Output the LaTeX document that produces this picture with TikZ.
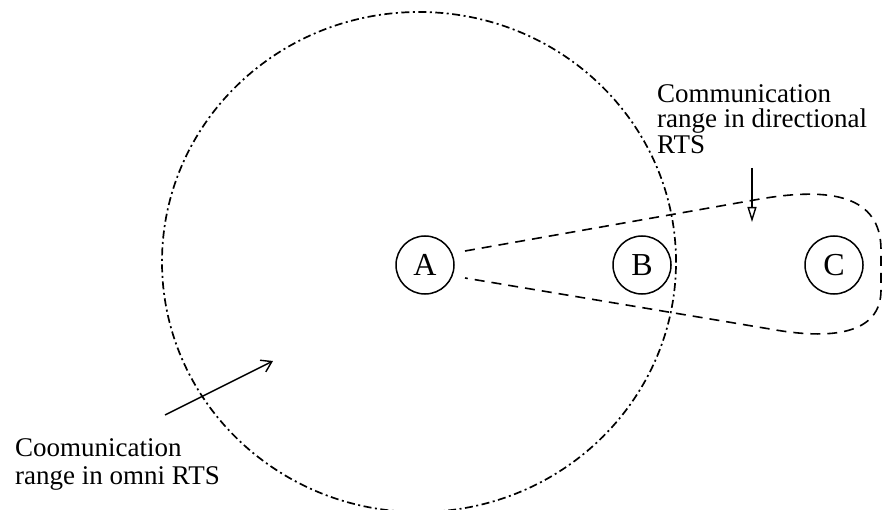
\documentclass[tikz,border=0pt]{standalone}
\usepackage{fontspec}
\setmainfont{Liberation Serif}
\usetikzlibrary{arrows.meta}
\begin{document}
\begin{tikzpicture}[x=1pt,y=-1pt,
  station/.style={draw,circle,line width=1.5pt,minimum size=58pt,inner sep=0pt,
    font=\fontsize{32}{32}\selectfont},
  omni/.style={line width=1.7pt,dash pattern=on 8pt off 3.5pt on 2pt off 3.5pt},
  dirrange/.style={line width=1.6pt,dash pattern=on 10pt off 7pt},
  label/.style={anchor=north west,inner sep=0pt,align=left},
  pointer/.style={line width=1.4pt},
]
\useasboundingbox (0,0) rectangle (882,510);
\fill[white] (0,0) rectangle (882,510);

% omni range
\draw[omni] (419,262) ellipse [x radius=257pt, y radius=250pt];

% stations
\node[station] (A) at (425,265) {A};
\node[station] (B) at (642,265) {B};
\node[station] (C) at (834,265) {C};

% directional range
\draw[dirrange] (465,251) -- (760,199)
  .. controls (830,187) and (881,195) .. (881,250)
  -- (881,290)
  .. controls (881,335) and (830,340) .. (770,329)
  -- (465,278);

% labels
\node[label,font=\fontsize{27}{25.8}\selectfont] (dirlabel) at (657,84)
  {Communication\\range in directional\\RTS};
\node[label,font=\fontsize{27}{28.3}\selectfont] (omnilabel) at (15,438.5)
  {Coomunication\\range in omni RTS};

% pointers
\coordinate (d1) at (752,168);
\coordinate (d2) at (752,222);
\draw[pointer,-{Triangle[open,length=15pt,width=9pt]}] (d1) -- (d2);
\coordinate (o1) at (165,415);
\coordinate (o2) at (273,361);
\draw[pointer,-{Straight Barb[length=10pt,width=13pt]}] (o1) -- (o2);
\end{tikzpicture}
\end{document}
